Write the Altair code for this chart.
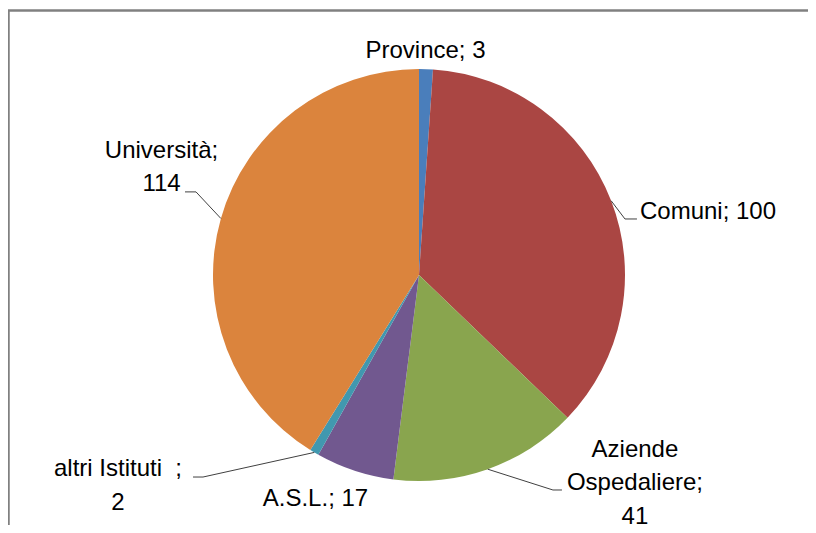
import altair as alt
import pandas as pd
import numpy as np

# ---- data ----
categories = ["Province", "Comuni", "Aziende Ospedaliere", "A.S.L.", "altri Istituti", "Università"]
values = [3, 100, 41, 17, 2, 114]
label_text = [
    "Province; 3",
    "Comuni; 100",
    "Aziende\nOspedaliere;\n41",
    "A.S.L.; 17",
    "altri Istituti\u00a0\u00a0;\n2",
    "Università;\n114",
]
colors = ["#4A7EBB", "#AA4643", "#89A54E", "#71588F", "#4198AF", "#DB843D"]

# ---- layout (pixels) ----
W, H = 800, 515
CX, CY, R = 411, 265, 206
label_offset = {
    "Province": (-0.5, -11),
    "Comuni": (28.8, 18.2),
    "Aziende Ospedaliere": (147.2, -12.2),
    "A.S.L.": (-39.2, 35.3),
    "altri Istituti": (-196.3, 23.6),
    "Università": (-59.4, -60.6),
}
label_align = {
    "Province": "center",
    "Comuni": "left",
    "Aziende Ospedaliere": "center",
    "A.S.L.": "center",
    "altri Istituti": "center",
    "Università": "center",
}
leader_path = {
    "Comuni": [(0, 0), (13.8, 18.2), (25.8, 18.2)],
    "Aziende Ospedaliere": [(0, 0), (65.2, 20.8), (74.2, 20.8)],
    "altri Istituti": [(0, 0), (-111.3, 24.6), (-121.3, 24.6)],
    "Università": [(0, 0), (-24.9, -26.6), (-35.9, -26.6)],
}

# ---- derived tables ----
vals = np.array(values, dtype=float)
total = vals.sum()
mid = (np.cumsum(vals) - vals / 2) / total * 2 * np.pi
edge_x = CX + R * np.sin(mid)
edge_y = CY - R * np.cos(mid)

df = pd.DataFrame({
    "category": categories,
    "value": values,
    "order": list(range(len(categories))),
    "label": label_text,
    "align": [label_align[c] for c in categories],
    "lx": [edge_x[i] + label_offset[c][0] for i, c in enumerate(categories)],
    "ly": [edge_y[i] + label_offset[c][1] for i, c in enumerate(categories)],
})

rows = []
for i, c in enumerate(categories):
    if c in leader_path:
        for s, (dx, dy) in enumerate(leader_path[c]):
            rows.append({"category": c, "seq": s, "x": edge_x[i] + dx, "y": edge_y[i] + dy})
lead = pd.DataFrame(rows)

frame_df = pd.DataFrame({"k": [0]})

FONT = "Liberation Sans"
FS = 24

frame_top = alt.Chart(frame_df).mark_rule(color="#808080", strokeWidth=2.5).encode(
    x=alt.value(0), x2=alt.value(W), y=alt.value(0.5), y2=alt.value(0.5)
)
frame_left = alt.Chart(frame_df).mark_rule(color="#808080", strokeWidth=2.5).encode(
    x=alt.value(0.5), x2=alt.value(0.5), y=alt.value(0), y2=alt.value(H)
)

arcs = alt.Chart(df).mark_arc(outerRadius=R).encode(
    theta=alt.Theta("value:Q", stack=True),
    color=alt.Color("category:N", scale=alt.Scale(domain=categories, range=colors), legend=None),
    order=alt.Order("order:Q"),
    x=alt.value(CX),
    y=alt.value(CY),
)

lines = alt.Chart(lead).mark_line(color="#404040", strokeWidth=1).encode(
    x=alt.X("x:Q", scale=None),
    y=alt.Y("y:Q", scale=None),
    detail="category:N",
    order="seq:Q",
)

def text_layer(al):
    return alt.Chart(df).transform_filter(alt.datum.align == al).mark_text(
        align=al, baseline="alphabetic", font=FONT, fontSize=FS, color="#000000",
        lineBreak="\n", lineHeight=33.5,
    ).encode(
        x=alt.X("lx:Q", scale=None),
        y=alt.Y("ly:Q", scale=None),
        text="label:N",
    )

chart = alt.layer(
    arcs, lines, text_layer("center"), text_layer("left"), frame_top, frame_left
).properties(
    width=W, height=H,
    padding={"left": 0, "top": 2, "right": 0, "bottom": 0},
    autosize="none",
    background="#ffffff",
).configure_view(stroke="transparent", strokeWidth=0)

chart.save("out.html", embed_options={"renderer": "svg", "actions": False})
